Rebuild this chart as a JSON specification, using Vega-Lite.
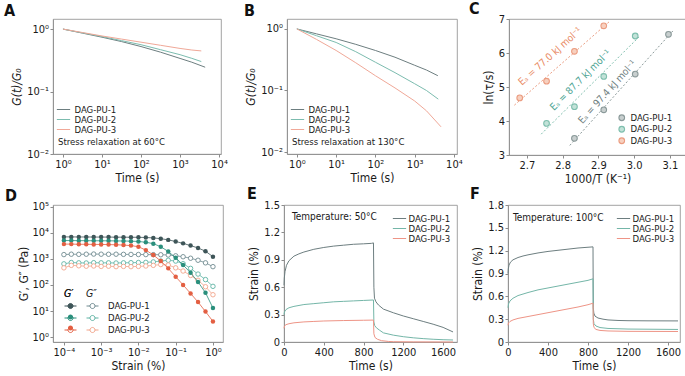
{
"$schema": "https://vega.github.io/schema/vega-lite/v6.json",
"padding": {"left": 3, "top": 0, "right": 0, "bottom": 0},
"config": {
  "font": "Liberation Sans Narrow, DejaVu Sans Condensed, Roboto",
  "view": {"stroke": "#8c8c8c", "strokeWidth": 0.8},
  "axis": {"grid": false, "domainColor": "#8c8c8c", "domainWidth": 0.8, "tickColor": "#8c8c8c", "tickSize": 3, "labelFontSize": 11, "titleFontSize": 12, "titleFontWeight": "normal", "labelColor": "#1a1a1a", "titleColor": "#1a1a1a", "labelPadding": 1.5, "titlePadding": 3, "labelFlush": false, "labelOverlap": false},
  "legend": {"labelFontSize": 9.5, "titleFontSize": 9.5, "titleFontWeight": "normal", "labelColor": "#1a1a1a", "titleColor": "#1a1a1a", "padding": 0, "orient": "none", "rowPadding": 0},
  "title": {"fontSize": 16, "fontWeight": "bold", "anchor": "start", "frame": "group", "color": "#111111"}
},
"datasets": {
  "relax60": [
    {"t":1,"g":1,"sample":"DAG-PU-1"},{"t":3.16,"g":0.861,"sample":"DAG-PU-1"},{"t":10,"g":0.741,"sample":"DAG-PU-1"},{"t":31.6,"g":0.631,"sample":"DAG-PU-1"},{"t":100,"g":0.525,"sample":"DAG-PU-1"},{"t":316,"g":0.427,"sample":"DAG-PU-1"},{"t":1000,"g":0.339,"sample":"DAG-PU-1"},{"t":2000,"g":0.295,"sample":"DAG-PU-1"},{"t":4400,"g":0.245,"sample":"DAG-PU-1"},
    {"t":1,"g":1,"sample":"DAG-PU-2"},{"t":3.16,"g":0.871,"sample":"DAG-PU-2"},{"t":10,"g":0.759,"sample":"DAG-PU-2"},{"t":31.6,"g":0.653,"sample":"DAG-PU-2"},{"t":100,"g":0.562,"sample":"DAG-PU-2"},{"t":316,"g":0.468,"sample":"DAG-PU-2"},{"t":1000,"g":0.389,"sample":"DAG-PU-2"},{"t":2000,"g":0.34,"sample":"DAG-PU-2"},{"t":3500,"g":0.302,"sample":"DAG-PU-2"},
    {"t":1,"g":1,"sample":"DAG-PU-3"},{"t":3.16,"g":0.881,"sample":"DAG-PU-3"},{"t":10,"g":0.776,"sample":"DAG-PU-3"},{"t":31.6,"g":0.692,"sample":"DAG-PU-3"},{"t":100,"g":0.617,"sample":"DAG-PU-3"},{"t":316,"g":0.55,"sample":"DAG-PU-3"},{"t":1000,"g":0.49,"sample":"DAG-PU-3"},{"t":2000,"g":0.462,"sample":"DAG-PU-3"},{"t":3500,"g":0.447,"sample":"DAG-PU-3"}
  ],
  "relax130": [
    {"t":1,"g":1,"sample":"DAG-PU-1"},{"t":3.16,"g":0.832,"sample":"DAG-PU-1"},{"t":10,"g":0.692,"sample":"DAG-PU-1"},{"t":31.6,"g":0.562,"sample":"DAG-PU-1"},{"t":100,"g":0.447,"sample":"DAG-PU-1"},{"t":316,"g":0.347,"sample":"DAG-PU-1"},{"t":1000,"g":0.257,"sample":"DAG-PU-1"},{"t":2000,"g":0.215,"sample":"DAG-PU-1"},{"t":3900,"g":0.174,"sample":"DAG-PU-1"},
    {"t":1,"g":1,"sample":"DAG-PU-2"},{"t":3.16,"g":0.776,"sample":"DAG-PU-2"},{"t":10,"g":0.603,"sample":"DAG-PU-2"},{"t":31.6,"g":0.427,"sample":"DAG-PU-2"},{"t":100,"g":0.288,"sample":"DAG-PU-2"},{"t":316,"g":0.195,"sample":"DAG-PU-2"},{"t":1000,"g":0.129,"sample":"DAG-PU-2"},{"t":2000,"g":0.1,"sample":"DAG-PU-2"},{"t":4000,"g":0.0724,"sample":"DAG-PU-2"},
    {"t":1,"g":1,"sample":"DAG-PU-3"},{"t":3.16,"g":0.676,"sample":"DAG-PU-3"},{"t":10,"g":0.447,"sample":"DAG-PU-3"},{"t":31.6,"g":0.282,"sample":"DAG-PU-3"},{"t":100,"g":0.174,"sample":"DAG-PU-3"},{"t":316,"g":0.11,"sample":"DAG-PU-3"},{"t":1000,"g":0.0676,"sample":"DAG-PU-3"},{"t":2000,"g":0.0468,"sample":"DAG-PU-3"},{"t":4700,"g":0.0257,"sample":"DAG-PU-3"}
  ],
  "arr": [
    {"x":2.68,"y":4.68,"sample":"DAG-PU-3"},{"x":2.755,"y":5.17,"sample":"DAG-PU-3"},{"x":2.833,"y":6.05,"sample":"DAG-PU-3"},{"x":2.915,"y":6.8,"sample":"DAG-PU-3"},
    {"x":2.755,"y":3.93,"sample":"DAG-PU-2"},{"x":2.833,"y":4.42,"sample":"DAG-PU-2"},{"x":2.915,"y":5.31,"sample":"DAG-PU-2"},{"x":3.003,"y":6.5,"sample":"DAG-PU-2"},
    {"x":2.833,"y":3.49,"sample":"DAG-PU-1"},{"x":2.915,"y":4.33,"sample":"DAG-PU-1"},{"x":3.003,"y":5.38,"sample":"DAG-PU-1"},{"x":3.096,"y":6.55,"sample":"DAG-PU-1"}
  ],
  "arrFit": [
    {"x":2.665,"y":4.465,"sample":"DAG-PU-3"},{"x":2.93,"y":6.918,"sample":"DAG-PU-3"},
    {"x":2.74,"y":3.613,"sample":"DAG-PU-2"},{"x":3.015,"y":6.488,"sample":"DAG-PU-2"},
    {"x":2.82,"y":3.282,"sample":"DAG-PU-1"},{"x":3.11,"y":6.669,"sample":"DAG-PU-1"}
  ],
  "arrLab": [
    {"sample":"DAG-PU-3","label":"Eₐ = 77.0 kJ mol⁻¹"},
    {"sample":"DAG-PU-2","label":"Eₐ = 87.7 kJ mol⁻¹"},
    {"sample":"DAG-PU-1","label":"Eₐ = 97.4 kJ mol⁻¹"}
  ],
  "gp": [
    {"strain":0.0001,"mod":6900,"sample":"DAG-PU-1"},{"strain":0.000158,"mod":6900,"sample":"DAG-PU-1"},{"strain":0.000251,"mod":6850,"sample":"DAG-PU-1"},{"strain":0.000398,"mod":6850,"sample":"DAG-PU-1"},{"strain":0.000631,"mod":6800,"sample":"DAG-PU-1"},{"strain":0.001,"mod":6800,"sample":"DAG-PU-1"},{"strain":0.00158,"mod":6780,"sample":"DAG-PU-1"},{"strain":0.00251,"mod":6750,"sample":"DAG-PU-1"},{"strain":0.00398,"mod":6720,"sample":"DAG-PU-1"},{"strain":0.00631,"mod":6700,"sample":"DAG-PU-1"},{"strain":0.01,"mod":6650,"sample":"DAG-PU-1"},{"strain":0.0158,"mod":6550,"sample":"DAG-PU-1"},{"strain":0.0251,"mod":6300,"sample":"DAG-PU-1"},{"strain":0.0398,"mod":5900,"sample":"DAG-PU-1"},{"strain":0.0631,"mod":5300,"sample":"DAG-PU-1"},{"strain":0.1,"mod":4600,"sample":"DAG-PU-1"},{"strain":0.158,"mod":3900,"sample":"DAG-PU-1"},{"strain":0.251,"mod":3200,"sample":"DAG-PU-1"},{"strain":0.398,"mod":2600,"sample":"DAG-PU-1"},{"strain":0.631,"mod":1950,"sample":"DAG-PU-1"},{"strain":1,"mod":1200,"sample":"DAG-PU-1"},
    {"strain":0.0001,"mod":5000,"sample":"DAG-PU-2"},{"strain":0.000158,"mod":5000,"sample":"DAG-PU-2"},{"strain":0.000251,"mod":4950,"sample":"DAG-PU-2"},{"strain":0.000398,"mod":4950,"sample":"DAG-PU-2"},{"strain":0.000631,"mod":4900,"sample":"DAG-PU-2"},{"strain":0.001,"mod":4900,"sample":"DAG-PU-2"},{"strain":0.00158,"mod":4880,"sample":"DAG-PU-2"},{"strain":0.00251,"mod":4850,"sample":"DAG-PU-2"},{"strain":0.00398,"mod":4800,"sample":"DAG-PU-2"},{"strain":0.00631,"mod":4750,"sample":"DAG-PU-2"},{"strain":0.01,"mod":4600,"sample":"DAG-PU-2"},{"strain":0.0158,"mod":4300,"sample":"DAG-PU-2"},{"strain":0.0251,"mod":3800,"sample":"DAG-PU-2"},{"strain":0.0398,"mod":2900,"sample":"DAG-PU-2"},{"strain":0.0631,"mod":1900,"sample":"DAG-PU-2"},{"strain":0.1,"mod":1100,"sample":"DAG-PU-2"},{"strain":0.158,"mod":580,"sample":"DAG-PU-2"},{"strain":0.251,"mod":290,"sample":"DAG-PU-2"},{"strain":0.398,"mod":130,"sample":"DAG-PU-2"},{"strain":0.631,"mod":50,"sample":"DAG-PU-2"},{"strain":1,"mod":13,"sample":"DAG-PU-2"},
    {"strain":0.0001,"mod":3650,"sample":"DAG-PU-3"},{"strain":0.000158,"mod":3650,"sample":"DAG-PU-3"},{"strain":0.000251,"mod":3600,"sample":"DAG-PU-3"},{"strain":0.000398,"mod":3600,"sample":"DAG-PU-3"},{"strain":0.000631,"mod":3550,"sample":"DAG-PU-3"},{"strain":0.001,"mod":3550,"sample":"DAG-PU-3"},{"strain":0.00158,"mod":3500,"sample":"DAG-PU-3"},{"strain":0.00251,"mod":3450,"sample":"DAG-PU-3"},{"strain":0.00398,"mod":3350,"sample":"DAG-PU-3"},{"strain":0.00631,"mod":3200,"sample":"DAG-PU-3"},{"strain":0.01,"mod":2900,"sample":"DAG-PU-3"},{"strain":0.0158,"mod":2150,"sample":"DAG-PU-3"},{"strain":0.0251,"mod":1400,"sample":"DAG-PU-3"},{"strain":0.0398,"mod":820,"sample":"DAG-PU-3"},{"strain":0.0631,"mod":430,"sample":"DAG-PU-3"},{"strain":0.1,"mod":205,"sample":"DAG-PU-3"},{"strain":0.158,"mod":100,"sample":"DAG-PU-3"},{"strain":0.251,"mod":47,"sample":"DAG-PU-3"},{"strain":0.398,"mod":22,"sample":"DAG-PU-3"},{"strain":0.631,"mod":9.5,"sample":"DAG-PU-3"},{"strain":1,"mod":4,"sample":"DAG-PU-3"}
  ],
  "gpp": [
    {"strain":0.0001,"mod":1450,"sample":"DAG-PU-1"},{"strain":0.000158,"mod":1500,"sample":"DAG-PU-1"},{"strain":0.000251,"mod":1480,"sample":"DAG-PU-1"},{"strain":0.000398,"mod":1500,"sample":"DAG-PU-1"},{"strain":0.000631,"mod":1520,"sample":"DAG-PU-1"},{"strain":0.001,"mod":1500,"sample":"DAG-PU-1"},{"strain":0.00158,"mod":1490,"sample":"DAG-PU-1"},{"strain":0.00251,"mod":1500,"sample":"DAG-PU-1"},{"strain":0.00398,"mod":1480,"sample":"DAG-PU-1"},{"strain":0.00631,"mod":1470,"sample":"DAG-PU-1"},{"strain":0.01,"mod":1460,"sample":"DAG-PU-1"},{"strain":0.0158,"mod":1450,"sample":"DAG-PU-1"},{"strain":0.0251,"mod":1440,"sample":"DAG-PU-1"},{"strain":0.0398,"mod":1430,"sample":"DAG-PU-1"},{"strain":0.0631,"mod":1400,"sample":"DAG-PU-1"},{"strain":0.1,"mod":1300,"sample":"DAG-PU-1"},{"strain":0.158,"mod":1200,"sample":"DAG-PU-1"},{"strain":0.251,"mod":1050,"sample":"DAG-PU-1"},{"strain":0.398,"mod":880,"sample":"DAG-PU-1"},{"strain":0.631,"mod":700,"sample":"DAG-PU-1"},{"strain":1,"mod":500,"sample":"DAG-PU-1"},
    {"strain":0.0001,"mod":640,"sample":"DAG-PU-2"},{"strain":0.000158,"mod":720,"sample":"DAG-PU-2"},{"strain":0.000251,"mod":700,"sample":"DAG-PU-2"},{"strain":0.000398,"mod":690,"sample":"DAG-PU-2"},{"strain":0.000631,"mod":710,"sample":"DAG-PU-2"},{"strain":0.001,"mod":700,"sample":"DAG-PU-2"},{"strain":0.00158,"mod":700,"sample":"DAG-PU-2"},{"strain":0.00251,"mod":690,"sample":"DAG-PU-2"},{"strain":0.00398,"mod":700,"sample":"DAG-PU-2"},{"strain":0.00631,"mod":710,"sample":"DAG-PU-2"},{"strain":0.01,"mod":720,"sample":"DAG-PU-2"},{"strain":0.0158,"mod":730,"sample":"DAG-PU-2"},{"strain":0.0251,"mod":760,"sample":"DAG-PU-2"},{"strain":0.0398,"mod":820,"sample":"DAG-PU-2"},{"strain":0.0631,"mod":880,"sample":"DAG-PU-2"},{"strain":0.1,"mod":820,"sample":"DAG-PU-2"},{"strain":0.158,"mod":650,"sample":"DAG-PU-2"},{"strain":0.251,"mod":430,"sample":"DAG-PU-2"},{"strain":0.398,"mod":260,"sample":"DAG-PU-2"},{"strain":0.631,"mod":160,"sample":"DAG-PU-2"},{"strain":1,"mod":88,"sample":"DAG-PU-2"},
    {"strain":0.0001,"mod":450,"sample":"DAG-PU-3"},{"strain":0.000158,"mod":560,"sample":"DAG-PU-3"},{"strain":0.000251,"mod":540,"sample":"DAG-PU-3"},{"strain":0.000398,"mod":520,"sample":"DAG-PU-3"},{"strain":0.000631,"mod":530,"sample":"DAG-PU-3"},{"strain":0.001,"mod":510,"sample":"DAG-PU-3"},{"strain":0.00158,"mod":520,"sample":"DAG-PU-3"},{"strain":0.00251,"mod":500,"sample":"DAG-PU-3"},{"strain":0.00398,"mod":510,"sample":"DAG-PU-3"},{"strain":0.00631,"mod":500,"sample":"DAG-PU-3"},{"strain":0.01,"mod":510,"sample":"DAG-PU-3"},{"strain":0.0158,"mod":530,"sample":"DAG-PU-3"},{"strain":0.0251,"mod":560,"sample":"DAG-PU-3"},{"strain":0.0398,"mod":600,"sample":"DAG-PU-3"},{"strain":0.0631,"mod":580,"sample":"DAG-PU-3"},{"strain":0.1,"mod":450,"sample":"DAG-PU-3"},{"strain":0.158,"mod":340,"sample":"DAG-PU-3"},{"strain":0.251,"mod":230,"sample":"DAG-PU-3"},{"strain":0.398,"mod":150,"sample":"DAG-PU-3"},{"strain":0.631,"mod":85,"sample":"DAG-PU-3"},{"strain":1,"mod":42,"sample":"DAG-PU-3"}
  ],
  "creep50": [
    {"time":0,"strain":0.62,"sample":"DAG-PU-1"},{"time":3,"strain":0.7,"sample":"DAG-PU-1"},{"time":10,"strain":0.77,"sample":"DAG-PU-1"},{"time":25,"strain":0.84,"sample":"DAG-PU-1"},{"time":50,"strain":0.89,"sample":"DAG-PU-1"},{"time":100,"strain":0.94,"sample":"DAG-PU-1"},{"time":150,"strain":0.965,"sample":"DAG-PU-1"},{"time":200,"strain":0.985,"sample":"DAG-PU-1"},{"time":300,"strain":1.015,"sample":"DAG-PU-1"},{"time":400,"strain":1.035,"sample":"DAG-PU-1"},{"time":500,"strain":1.05,"sample":"DAG-PU-1"},{"time":600,"strain":1.06,"sample":"DAG-PU-1"},{"time":700,"strain":1.07,"sample":"DAG-PU-1"},{"time":800,"strain":1.075,"sample":"DAG-PU-1"},{"time":880,"strain":1.08,"sample":"DAG-PU-1"},{"time":900,"strain":1.085,"sample":"DAG-PU-1"},{"time":904,"strain":0.6,"sample":"DAG-PU-1"},{"time":910,"strain":0.48,"sample":"DAG-PU-1"},{"time":925,"strain":0.44,"sample":"DAG-PU-1"},{"time":950,"strain":0.405,"sample":"DAG-PU-1"},{"time":1000,"strain":0.36,"sample":"DAG-PU-1"},{"time":1100,"strain":0.32,"sample":"DAG-PU-1"},{"time":1200,"strain":0.285,"sample":"DAG-PU-1"},{"time":1300,"strain":0.255,"sample":"DAG-PU-1"},{"time":1400,"strain":0.225,"sample":"DAG-PU-1"},{"time":1500,"strain":0.195,"sample":"DAG-PU-1"},{"time":1600,"strain":0.16,"sample":"DAG-PU-1"},{"time":1700,"strain":0.11,"sample":"DAG-PU-1"},
    {"time":0,"strain":0.3,"sample":"DAG-PU-2"},{"time":5,"strain":0.33,"sample":"DAG-PU-2"},{"time":20,"strain":0.355,"sample":"DAG-PU-2"},{"time":50,"strain":0.375,"sample":"DAG-PU-2"},{"time":100,"strain":0.39,"sample":"DAG-PU-2"},{"time":200,"strain":0.41,"sample":"DAG-PU-2"},{"time":300,"strain":0.42,"sample":"DAG-PU-2"},{"time":400,"strain":0.43,"sample":"DAG-PU-2"},{"time":500,"strain":0.44,"sample":"DAG-PU-2"},{"time":600,"strain":0.445,"sample":"DAG-PU-2"},{"time":700,"strain":0.45,"sample":"DAG-PU-2"},{"time":800,"strain":0.455,"sample":"DAG-PU-2"},{"time":900,"strain":0.46,"sample":"DAG-PU-2"},{"time":904,"strain":0.22,"sample":"DAG-PU-2"},{"time":912,"strain":0.18,"sample":"DAG-PU-2"},{"time":930,"strain":0.155,"sample":"DAG-PU-2"},{"time":960,"strain":0.13,"sample":"DAG-PU-2"},{"time":1000,"strain":0.1,"sample":"DAG-PU-2"},{"time":1100,"strain":0.075,"sample":"DAG-PU-2"},{"time":1200,"strain":0.058,"sample":"DAG-PU-2"},{"time":1300,"strain":0.046,"sample":"DAG-PU-2"},{"time":1400,"strain":0.037,"sample":"DAG-PU-2"},{"time":1500,"strain":0.03,"sample":"DAG-PU-2"},{"time":1600,"strain":0.025,"sample":"DAG-PU-2"},{"time":1700,"strain":0.022,"sample":"DAG-PU-2"},
    {"time":0,"strain":0.15,"sample":"DAG-PU-3"},{"time":5,"strain":0.175,"sample":"DAG-PU-3"},{"time":20,"strain":0.19,"sample":"DAG-PU-3"},{"time":50,"strain":0.2,"sample":"DAG-PU-3"},{"time":100,"strain":0.21,"sample":"DAG-PU-3"},{"time":200,"strain":0.22,"sample":"DAG-PU-3"},{"time":300,"strain":0.225,"sample":"DAG-PU-3"},{"time":400,"strain":0.23,"sample":"DAG-PU-3"},{"time":600,"strain":0.235,"sample":"DAG-PU-3"},{"time":800,"strain":0.238,"sample":"DAG-PU-3"},{"time":900,"strain":0.24,"sample":"DAG-PU-3"},{"time":904,"strain":0.09,"sample":"DAG-PU-3"},{"time":915,"strain":0.05,"sample":"DAG-PU-3"},{"time":940,"strain":0.03,"sample":"DAG-PU-3"},{"time":980,"strain":0.015,"sample":"DAG-PU-3"},{"time":1050,"strain":0.006,"sample":"DAG-PU-3"},{"time":1100,"strain":0.003,"sample":"DAG-PU-3"},{"time":1300,"strain":0.001,"sample":"DAG-PU-3"},{"time":1700,"strain":0,"sample":"DAG-PU-3"}
  ],
  "creep100": [
    {"time":0,"strain":0.9,"sample":"DAG-PU-1"},{"time":3,"strain":0.96,"sample":"DAG-PU-1"},{"time":10,"strain":1.01,"sample":"DAG-PU-1"},{"time":25,"strain":1.05,"sample":"DAG-PU-1"},{"time":50,"strain":1.08,"sample":"DAG-PU-1"},{"time":100,"strain":1.11,"sample":"DAG-PU-1"},{"time":150,"strain":1.13,"sample":"DAG-PU-1"},{"time":200,"strain":1.145,"sample":"DAG-PU-1"},{"time":300,"strain":1.17,"sample":"DAG-PU-1"},{"time":400,"strain":1.19,"sample":"DAG-PU-1"},{"time":500,"strain":1.205,"sample":"DAG-PU-1"},{"time":600,"strain":1.22,"sample":"DAG-PU-1"},{"time":700,"strain":1.235,"sample":"DAG-PU-1"},{"time":800,"strain":1.245,"sample":"DAG-PU-1"},{"time":850,"strain":1.25,"sample":"DAG-PU-1"},{"time":853,"strain":0.45,"sample":"DAG-PU-1"},{"time":858,"strain":0.38,"sample":"DAG-PU-1"},{"time":870,"strain":0.34,"sample":"DAG-PU-1"},{"time":900,"strain":0.315,"sample":"DAG-PU-1"},{"time":950,"strain":0.3,"sample":"DAG-PU-1"},{"time":1000,"strain":0.29,"sample":"DAG-PU-1"},{"time":1100,"strain":0.283,"sample":"DAG-PU-1"},{"time":1200,"strain":0.28,"sample":"DAG-PU-1"},{"time":1400,"strain":0.278,"sample":"DAG-PU-1"},{"time":1700,"strain":0.277,"sample":"DAG-PU-1"},
    {"time":0,"strain":0.45,"sample":"DAG-PU-2"},{"time":5,"strain":0.5,"sample":"DAG-PU-2"},{"time":20,"strain":0.54,"sample":"DAG-PU-2"},{"time":50,"strain":0.575,"sample":"DAG-PU-2"},{"time":100,"strain":0.61,"sample":"DAG-PU-2"},{"time":200,"strain":0.65,"sample":"DAG-PU-2"},{"time":300,"strain":0.685,"sample":"DAG-PU-2"},{"time":400,"strain":0.71,"sample":"DAG-PU-2"},{"time":500,"strain":0.735,"sample":"DAG-PU-2"},{"time":600,"strain":0.76,"sample":"DAG-PU-2"},{"time":700,"strain":0.785,"sample":"DAG-PU-2"},{"time":800,"strain":0.81,"sample":"DAG-PU-2"},{"time":850,"strain":0.83,"sample":"DAG-PU-2"},{"time":853,"strain":0.3,"sample":"DAG-PU-2"},{"time":860,"strain":0.24,"sample":"DAG-PU-2"},{"time":880,"strain":0.21,"sample":"DAG-PU-2"},{"time":920,"strain":0.19,"sample":"DAG-PU-2"},{"time":1000,"strain":0.178,"sample":"DAG-PU-2"},{"time":1200,"strain":0.17,"sample":"DAG-PU-2"},{"time":1700,"strain":0.165,"sample":"DAG-PU-2"},
    {"time":0,"strain":0.22,"sample":"DAG-PU-3"},{"time":5,"strain":0.25,"sample":"DAG-PU-3"},{"time":20,"strain":0.27,"sample":"DAG-PU-3"},{"time":50,"strain":0.29,"sample":"DAG-PU-3"},{"time":100,"strain":0.31,"sample":"DAG-PU-3"},{"time":200,"strain":0.335,"sample":"DAG-PU-3"},{"time":300,"strain":0.36,"sample":"DAG-PU-3"},{"time":400,"strain":0.385,"sample":"DAG-PU-3"},{"time":500,"strain":0.41,"sample":"DAG-PU-3"},{"time":600,"strain":0.435,"sample":"DAG-PU-3"},{"time":700,"strain":0.46,"sample":"DAG-PU-3"},{"time":800,"strain":0.49,"sample":"DAG-PU-3"},{"time":850,"strain":0.51,"sample":"DAG-PU-3"},{"time":853,"strain":0.24,"sample":"DAG-PU-3"},{"time":860,"strain":0.19,"sample":"DAG-PU-3"},{"time":880,"strain":0.165,"sample":"DAG-PU-3"},{"time":920,"strain":0.152,"sample":"DAG-PU-3"},{"time":1000,"strain":0.145,"sample":"DAG-PU-3"},{"time":1200,"strain":0.14,"sample":"DAG-PU-3"},{"time":1700,"strain":0.138,"sample":"DAG-PU-3"}
  ]
},
"spacing": 0,
"resolve": {"scale": {"color": "independent", "fill": "independent", "stroke": "independent"}, "legend": {"color": "independent", "fill": "independent", "stroke": "independent"}},
"vconcat": [
  {"spacing": 15,
   "resolve": {"scale": {"color": "independent", "fill": "independent", "stroke": "independent"}, "legend": {"color": "independent", "fill": "independent", "stroke": "independent"}},
   "hconcat": [
    {"resolve": {"scale": {"color": "independent", "fill": "independent", "stroke": "independent"}, "legend": {"color": "independent", "fill": "independent", "stroke": "independent"}},
     "hconcat": [
      {"width": 168, "height": 135,
       "title": {"text": "A", "dx": -49, "offset": 0},
       "data": {"name": "relax60"},
       "mark": {"type": "line", "strokeWidth": 1},
       "encoding": {
         "x": {"field": "t", "type": "quantitative", "scale": {"type": "log", "domain": [0.555, 11200], "nice": false}, "axis": {"values": [1, 10, 100, 1000, 10000], "labelOverlap": false, "labelExpr": "'10' + (datum.value < 1 ? '⁻' : '') + substring('⁰¹²³⁴⁵⁶⁷⁸⁹', abs(round(log(datum.value) / LN10)), abs(round(log(datum.value) / LN10)) + 1)", "title": "Time (s)"}},
         "y": {"field": "g", "type": "quantitative", "scale": {"type": "log", "domain": [0.01, 1.45], "nice": false}, "axis": {"values": [0.01, 0.1, 1], "labelOverlap": false, "labelExpr": "'10' + (datum.value < 1 ? '⁻' : '') + substring('⁰¹²³⁴⁵⁶⁷⁸⁹', abs(round(log(datum.value) / LN10)), abs(round(log(datum.value) / LN10)) + 1)", "title": "G(t)/G₀", "titleFontStyle": "italic"}},
         "color": {"field": "sample", "type": "nominal", "scale": {"domain": ["DAG-PU-1", "DAG-PU-2", "DAG-PU-3"], "range": ["#6d7e80", "#7cbcaf", "#f0a898"]}, "legend": {"title": "Stress relaxation at 60°C", "titleOrient": "bottom", "titleAnchor": "start", "titlePadding": 3, "rowPadding": 0, "legendX": 5, "legendY": 85, "symbolType": "M-1.4,0H1.4", "symbolSize": 90, "symbolStrokeWidth": 1, "labelOffset": 5.5}}
       }}
    ]},
    {"spacing": 5,
     "resolve": {"scale": {"color": "independent", "fill": "independent", "stroke": "independent"}, "legend": {"color": "independent", "fill": "independent", "stroke": "independent"}},
     "hconcat": [
      {"width": 170, "height": 135,
       "title": {"text": "B", "dx": -43, "offset": 0},
       "data": {"name": "relax130"},
       "mark": {"type": "line", "strokeWidth": 1},
       "encoding": {
         "x": {"field": "t", "type": "quantitative", "scale": {"type": "log", "domain": [0.56, 12000], "nice": false}, "axis": {"values": [1, 10, 100, 1000, 10000], "labelOverlap": false, "labelExpr": "'10' + (datum.value < 1 ? '⁻' : '') + substring('⁰¹²³⁴⁵⁶⁷⁸⁹', abs(round(log(datum.value) / LN10)), abs(round(log(datum.value) / LN10)) + 1)", "title": "Time (s)"}},
         "y": {"field": "g", "type": "quantitative", "scale": {"type": "log", "domain": [0.0093, 1.45], "nice": false}, "axis": {"values": [0.01, 0.1, 1], "labelOverlap": false, "labelExpr": "'10' + (datum.value < 1 ? '⁻' : '') + substring('⁰¹²³⁴⁵⁶⁷⁸⁹', abs(round(log(datum.value) / LN10)), abs(round(log(datum.value) / LN10)) + 1)", "title": "G(t)/G₀", "titleFontStyle": "italic"}},
         "color": {"field": "sample", "type": "nominal", "scale": {"domain": ["DAG-PU-1", "DAG-PU-2", "DAG-PU-3"], "range": ["#6d7e80", "#7cbcaf", "#f0a898"]}, "legend": {"title": "Stress relaxation at 130°C", "titleOrient": "bottom", "titleAnchor": "start", "titlePadding": 3, "rowPadding": 0, "legendX": 5, "legendY": 85, "symbolType": "M-1.4,0H1.4", "symbolSize": 90, "symbolStrokeWidth": 1, "labelOffset": 5.5}}
       }},
      {"width": 177, "height": 136,
       "title": {"text": "C", "dx": -40, "offset": -4},
       "layer": [
         {"data": {"name": "arrFit"}, "mark": {"type": "line", "strokeDash": [2, 2], "strokeWidth": 1},
          "encoding": {
            "x": {"field": "x", "type": "quantitative", "scale": {"domain": [2.65, 3.145], "nice": false, "zero": false}, "axis": {"values": [2.7, 2.8, 2.9, 3.0, 3.1], "tickCount": 20, "labelOverlap": false, "format": ".1f", "title": "1000/T (K⁻¹)"}},
            "y": {"field": "y", "type": "quantitative", "scale": {"domain": [3, 7], "nice": false, "zero": false}, "axis": {"values": [3, 4, 5, 6, 7], "tickCount": 20, "labelOverlap": false, "format": "d", "title": "ln(τ/s)"}},
            "color": {"field": "sample", "type": "nominal", "scale": {"range": ["#8b9a9a", "#7fbfae", "#eb9c80"]}, "legend": null}}},
         {"data": {"name": "arr"}, "mark": {"type": "point", "shape": "circle", "size": 32, "strokeWidth": 1.1, "filled": false, "opacity": 1},
          "encoding": {
            "x": {"field": "x", "type": "quantitative"},
            "y": {"field": "y", "type": "quantitative"},
            "stroke": {"field": "sample", "type": "nominal", "scale": {"domain": ["DAG-PU-1", "DAG-PU-2", "DAG-PU-3"], "range": ["#8b9a9a", "#7fbfae", "#eb9c80"]}, "legend": {"title": null, "legendX": 108, "legendY": 94, "symbolType": "circle", "symbolSize": 32, "symbolStrokeWidth": 1.1, "labelOffset": 4, "rowPadding": 0.5}},
            "fill": {"field": "sample", "type": "nominal", "scale": {"domain": ["DAG-PU-1", "DAG-PU-2", "DAG-PU-3"], "range": ["#c8cfcf", "#c2e2d8", "#f7d0bf"]}, "legend": {"title": null, "legendX": 108, "legendY": 94, "symbolType": "circle", "symbolSize": 32, "symbolStrokeWidth": 1.1, "labelOffset": 4, "rowPadding": 0.5}}
          }},
         {"data": {"name": "arrLab"}, "transform": [{"filter": "datum.sample === 'DAG-PU-3'"}], "mark": {"type": "text", "angle": -42, "fontSize": 10, "color": "#e98a63"},
          "encoding": {"x": {"datum": 2.765, "type": "quantitative"}, "y": {"datum": 5.9, "type": "quantitative"}, "text": {"field": "label", "type": "nominal"}}},
         {"data": {"name": "arrLab"}, "transform": [{"filter": "datum.sample === 'DAG-PU-2'"}], "mark": {"type": "text", "angle": -45, "fontSize": 10, "color": "#4da493"},
          "encoding": {"x": {"datum": 2.85, "type": "quantitative"}, "y": {"datum": 5.2, "type": "quantitative"}, "text": {"field": "label", "type": "nominal"}}},
         {"data": {"name": "arrLab"}, "transform": [{"filter": "datum.sample === 'DAG-PU-1'"}], "mark": {"type": "text", "angle": -48, "fontSize": 10, "color": "#708080"},
          "encoding": {"x": {"datum": 2.925, "type": "quantitative"}, "y": {"datum": 4.85, "type": "quantitative"}, "text": {"field": "label", "type": "nominal"}}}
       ]}
    ]}
  ]},
  {"spacing": 22,
   "resolve": {"scale": {"color": "independent", "fill": "independent", "stroke": "independent"}, "legend": {"color": "independent", "fill": "independent", "stroke": "independent"}},
   "hconcat": [
    {"resolve": {"scale": {"color": "independent", "fill": "independent", "stroke": "independent"}, "legend": {"color": "independent", "fill": "independent", "stroke": "independent"}},
     "hconcat": [
      {"width": 170, "height": 137,
       "title": {"text": "D", "dx": -48, "offset": -3},
       "encoding": {
         "x": {"field": "strain", "type": "quantitative", "scale": {"type": "log", "domain": [0.000051, 1.86], "nice": false}, "axis": {"values": [0.0001, 0.001, 0.01, 0.1, 1], "labelOverlap": false, "labelExpr": "'10' + (datum.value < 1 ? '⁻' : '') + substring('⁰¹²³⁴⁵⁶⁷⁸⁹', abs(round(log(datum.value) / LN10)), abs(round(log(datum.value) / LN10)) + 1)", "title": "Strain (%)"}},
         "y": {"field": "mod", "type": "quantitative", "scale": {"type": "log", "domain": [0.65, 115000], "nice": false}, "axis": {"values": [1, 10, 100, 1000, 10000, 100000], "labelOverlap": false, "labelExpr": "'10' + (datum.value < 1 ? '⁻' : '') + substring('⁰¹²³⁴⁵⁶⁷⁸⁹', abs(round(log(datum.value) / LN10)), abs(round(log(datum.value) / LN10)) + 1)", "title": "G′, G″ (Pa)", "titlePadding": 1}}
       },
       "layer": [
         {"data": {"name": "gpp"}, "layer": [
           {"mark": {"type": "line", "strokeWidth": 0.8},
            "encoding": {"color": {"field": "sample", "type": "nominal", "scale": {"range": ["#6f8a90", "#5fb3a4", "#f2a58b"]}, "legend": {"title": "G″", "titleFontStyle": "italic", "titleFontSize": 10.5, "titlePadding": 0, "rowPadding": 0, "legendX": 33, "legendY": 84, "symbolType": "M-1,0H-0.42M0.42,0H1M0.42,0A0.42,0.42,0,1,1,-0.42,0A0.42,0.42,0,1,1,0.42,0Z", "symbolSize": 144, "symbolStrokeWidth": 1, "labelOffset": 9}}}},
           {"mark": {"type": "point", "shape": "circle", "size": 20, "strokeWidth": 0.9, "filled": false, "fill": "#ffffff", "opacity": 1},
            "encoding": {"color": {"field": "sample", "type": "nominal", "legend": {"title": "G″", "titleFontStyle": "italic", "titleFontSize": 10.5, "titlePadding": 0, "rowPadding": 0, "legendX": 33, "legendY": 84, "symbolType": "M-1,0H-0.42M0.42,0H1M0.42,0A0.42,0.42,0,1,1,-0.42,0A0.42,0.42,0,1,1,0.42,0Z", "symbolSize": 144, "symbolStrokeWidth": 1, "labelOffset": 9}}}}
         ]},
         {"data": {"name": "gp"}, "layer": [
           {"mark": {"type": "line", "strokeWidth": 0.8},
            "encoding": {"stroke": {"field": "sample", "type": "nominal", "scale": {"range": ["#3e5558", "#2a8f7c", "#e35f42"]}, "legend": {"title": "G′", "titleFontStyle": "italic", "titleFontSize": 10.5, "titlePadding": 0, "rowPadding": 0, "labelExpr": "''", "legendX": 11, "legendY": 84, "symbolType": "M-1,0H-0.42M0.42,0H1M0.42,0A0.42,0.42,0,1,1,-0.42,0A0.42,0.42,0,1,1,0.42,0Z", "symbolSize": 144, "symbolStrokeWidth": 1, "labelOffset": 0}}}},
           {"mark": {"type": "circle", "size": 20, "opacity": 1},
            "encoding": {"fill": {"field": "sample", "type": "nominal", "scale": {"range": ["#3e5558", "#2a8f7c", "#e35f42"]}, "legend": {"title": "G′", "titleFontStyle": "italic", "titleFontSize": 10.5, "titlePadding": 0, "rowPadding": 0, "labelExpr": "''", "legendX": 11, "legendY": 84, "symbolType": "M-1,0H-0.42M0.42,0H1M0.42,0A0.42,0.42,0,1,1,-0.42,0A0.42,0.42,0,1,1,0.42,0Z", "symbolSize": 144, "symbolStrokeWidth": 1, "labelOffset": 0}}}}
         ]}
       ]}
    ]},
    {"spacing": 11,
     "resolve": {"scale": {"color": "independent", "fill": "independent", "stroke": "independent"}, "legend": {"color": "independent", "fill": "independent", "stroke": "independent"}},
     "hconcat": [
      {"width": 173, "height": 137,
       "title": {"text": "E", "dx": -37, "offset": -3},
       "layer": [
         {"data": {"name": "creep50"}, "mark": {"type": "line", "strokeWidth": 1},
          "encoding": {
            "x": {"field": "time", "type": "quantitative", "scale": {"domain": [0, 1740], "nice": false, "zero": false}, "axis": {"values": [0, 400, 800, 1200, 1600], "tickCount": 20, "labelOverlap": false, "format": "d", "title": "Time (s)"}},
            "y": {"field": "strain", "type": "quantitative", "scale": {"domain": [0, 1.5], "nice": false}, "axis": {"values": [0, 0.3, 0.6, 0.9, 1.2, 1.5], "tickCount": 20, "labelOverlap": false, "labelExpr": "datum.value === 0 ? '0' : format(datum.value, '.1f')", "title": "Strain (%)"}},
            "color": {"field": "sample", "type": "nominal", "scale": {"domain": ["DAG-PU-1", "DAG-PU-2", "DAG-PU-3"], "range": ["#6d7e80", "#74b6a8", "#ee9486"]}, "legend": {"title": null, "rowPadding": 0, "legendX": 110, "legendY": 8, "symbolType": "M-1.4,0H1.4", "symbolSize": 90, "symbolStrokeWidth": 1, "labelOffset": 3.5}}}},
         {"data": {"values": [{"label": "Temperature: 50°C"}]}, "mark": {"type": "text", "align": "left", "fontSize": 10, "color": "#1a1a1a"},
          "encoding": {"x": {"datum": 80, "type": "quantitative"}, "y": {"datum": 1.367, "type": "quantitative"}, "text": {"field": "label", "type": "nominal"}}}
       ]},
      {"width": 172, "height": 137,
       "title": {"text": "F", "dx": -38, "offset": -3},
       "layer": [
         {"data": {"name": "creep100"}, "mark": {"type": "line", "strokeWidth": 1},
          "encoding": {
            "x": {"field": "time", "type": "quantitative", "scale": {"domain": [0, 1720], "nice": false, "zero": false}, "axis": {"values": [0, 400, 800, 1200, 1600], "tickCount": 20, "labelOverlap": false, "format": "d", "title": "Time (s)"}},
            "y": {"field": "strain", "type": "quantitative", "scale": {"domain": [0, 1.8], "nice": false}, "axis": {"values": [0, 0.3, 0.6, 0.9, 1.2, 1.5, 1.8], "tickCount": 20, "labelOverlap": false, "labelExpr": "datum.value === 0 ? '0' : format(datum.value, '.1f')", "title": "Strain (%)"}},
            "color": {"field": "sample", "type": "nominal", "scale": {"domain": ["DAG-PU-1", "DAG-PU-2", "DAG-PU-3"], "range": ["#6d7e80", "#74b6a8", "#ee9486"]}, "legend": {"title": null, "rowPadding": 0, "legendX": 110, "legendY": 8, "symbolType": "M-1.4,0H1.4", "symbolSize": 90, "symbolStrokeWidth": 1, "labelOffset": 3.5}}}},
         {"data": {"values": [{"label": "Temperature: 100°C"}]}, "mark": {"type": "text", "align": "left", "fontSize": 10, "color": "#1a1a1a"},
          "encoding": {"x": {"datum": 50, "type": "quantitative"}, "y": {"datum": 1.63, "type": "quantitative"}, "text": {"field": "label", "type": "nominal"}}}
       ]}
    ]}
  ]}
]
}
